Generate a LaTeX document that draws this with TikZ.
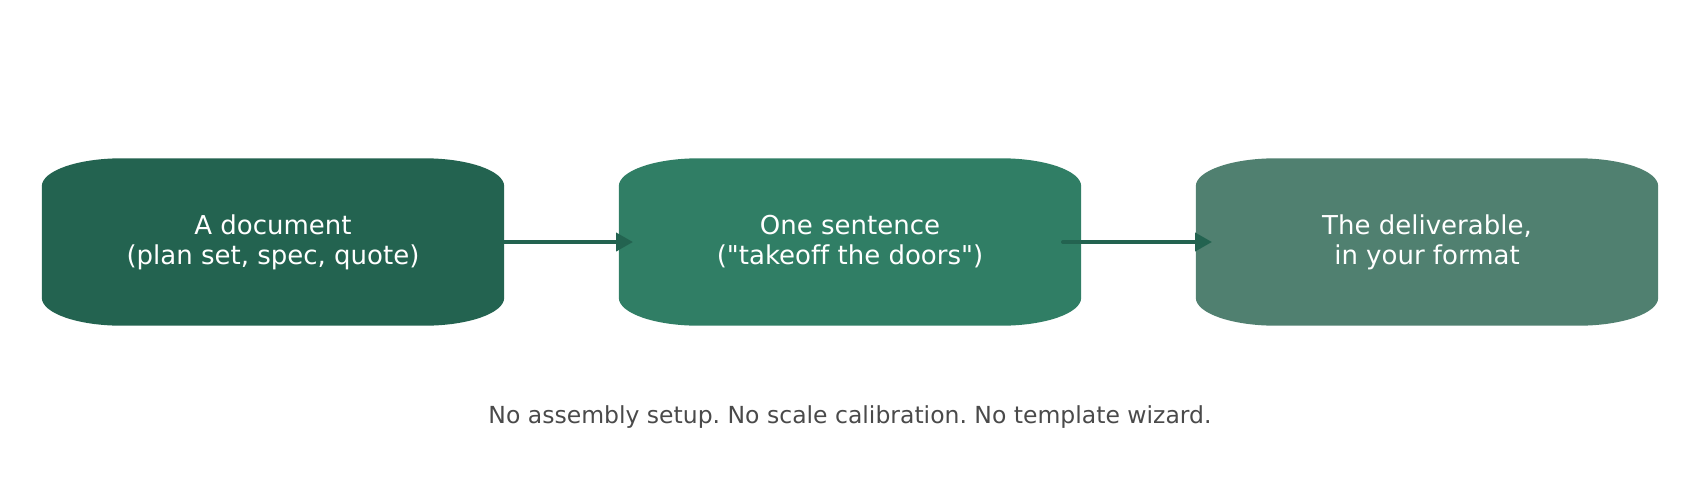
\documentclass[tikz,border=0pt]{standalone}
\usepackage{fontspec}
\setmainfont{DejaVu Sans}[Ligatures={NoCommon}]
\usetikzlibrary{arrows.meta,backgrounds}
\definecolor{cA}{HTML}{236350}
\definecolor{cB}{HTML}{307E65}
\definecolor{cC}{HTML}{508070}
\definecolor{capgray}{HTML}{4A4A4A}
\tikzset{
  boxnode/.style={minimum width=462pt,minimum height=167pt,inner sep=0pt,text=white,align=center,font=\fontsize{26}{30}\selectfont},
  flowarrow/.style={draw=cA,line width=4pt,line cap=round,-{Triangle[length=17pt,width=18pt]}},
}
\newcommand{\roundbox}[2]{%
  \fill[#2] ([xshift=80pt]#1.north west) -- ([xshift=-80pt]#1.north east)
    arc[start angle=90,end angle=0,x radius=80pt,y radius=28pt]
    -- ([yshift=28pt]#1.south east)
    arc[start angle=0,end angle=-90,x radius=80pt,y radius=28pt]
    -- ([xshift=80pt]#1.south west)
    arc[start angle=-90,end angle=-180,x radius=80pt,y radius=28pt]
    -- ([yshift=-28pt]#1.north west)
    arc[start angle=180,end angle=90,x radius=80pt,y radius=28pt] -- cycle;}
\frenchspacing
\begin{document}
\begin{tikzpicture}[x=1pt,y=-1pt]
\useasboundingbox (0,0) rectangle (1700,493);
\node[boxnode] (b1) at (273,242) {A document\\(plan set, spec, quote)};
\node[boxnode] (b2) at (850,242) {One sentence\\(\textquotedbl takeoff the doors\textquotedbl)};
\node[boxnode] (b3) at (1427,242) {The deliverable,\\in your format};
\begin{scope}[on background layer]
\roundbox{b1}{cA}
\roundbox{b2}{cB}
\roundbox{b3}{cC}
\end{scope}
\coordinate (t1) at (633,242);
\coordinate (s2) at (1063,242);
\coordinate (t2) at (1212,242);
\draw[flowarrow] (b1.east) -- (t1);
\draw[flowarrow] (s2) -- (t2);
\node[text=capgray,font=\fontsize{23.5}{28}\selectfont] (cap) at (850,417) {No assembly setup. No scale calibration. No template wizard.};
\end{tikzpicture}
\end{document}
